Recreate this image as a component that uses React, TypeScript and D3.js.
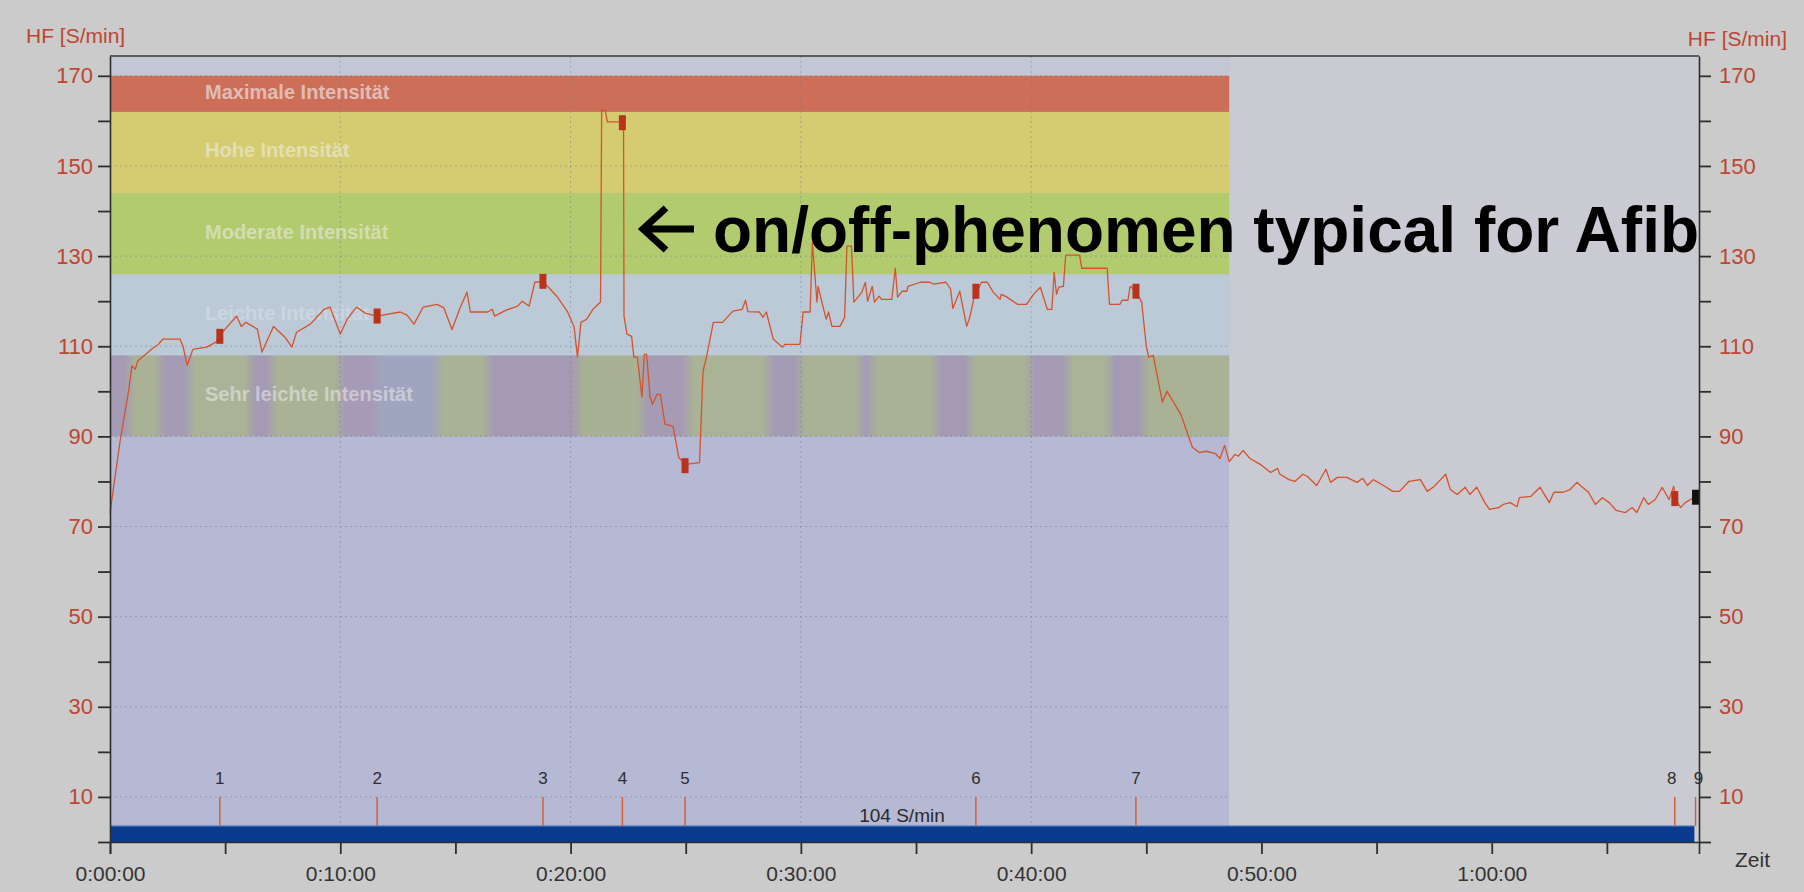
import * as React from 'react';
import { useRef, useEffect } from 'react';
import * as d3 from 'd3';

const W = 1804;
const H = 892;

// heart rate trace: [minute, S/min]
const heartRate: [number, number][] = [
  [0, 73], [0.43, 88.7], [0.8, 99.8], [0.95, 105.6], [1.1, 104.9], [1.2, 106.7], [1.45, 107.8], [1.87, 109.6],
  [2.1, 110.4], [2.3, 111.6], [3.04, 111.6], [3.17, 110], [3.35, 105.8], [3.6, 109.3], [4.2, 109.8], [4.6, 110.9],
  [4.77, 112.4], [5.0, 113.8], [5.5, 116.7], [5.7, 114.4], [5.9, 115.3], [6.4, 113.8], [6.6, 108.7], [7.1, 114.4],
  [7.6, 112], [7.9, 109.8], [8.1, 113.1], [8.7, 114.9], [9.3, 118.2], [9.55, 118.7], [10.0, 112.7], [10.3, 116],
  [10.7, 118.7], [11.1, 117.3], [11.6, 116.7], [12.6, 117.6], [12.9, 116.9], [13.2, 114.9], [13.6, 118.7], [14.2, 119.3],
  [14.5, 118.5], [14.85, 113.7], [15.2, 118.5], [15.5, 122], [15.65, 117.6], [16.4, 117.6], [16.6, 118.2], [16.7, 116.7],
  [17.2, 118], [17.7, 118.9], [17.9, 120], [18.2, 118.9], [18.45, 124.2], [18.8, 124.4], [19.0, 123.3], [19.4, 121.1],
  [19.85, 117.8], [20.15, 114.4], [20.3, 107.6], [20.45, 115.3], [20.7, 116], [20.97, 118.2], [21.3, 119.8], [21.35, 162.4],
  [21.5, 162.4], [21.6, 159.8], [22.3, 159.8], [22.32, 116.7], [22.45, 112.7], [22.65, 112.2], [22.75, 107.6], [22.9, 107.6],
  [23.1, 98.7], [23.2, 108.2], [23.3, 108.2], [23.45, 98.9], [23.55, 97.1], [23.75, 99.3], [23.9, 99.3], [24.1, 92.7],
  [24.45, 92.2], [24.7, 85.3], [24.97, 83.8], [25.6, 84.2], [25.75, 104.4], [25.9, 107.6], [26.2, 115.3], [26.6, 115.3],
  [27.05, 117.8], [27.45, 118.2], [27.6, 120.2], [27.7, 117.7], [28.2, 117.6], [28.35, 116.4], [28.5, 117.6], [28.8, 111.6],
  [29.2, 109.8], [29.3, 110.4], [29.96, 110.4], [30.1, 117.6], [30.4, 117.6], [30.5, 133], [30.7, 119.8], [30.75, 123.3],
  [30.9, 120], [31.1, 116], [31.2, 117.6], [31.35, 114.4], [31.7, 114.4], [31.9, 116.4], [32.0, 132.2], [32.2, 132.2],
  [32.3, 119.8], [32.4, 120.4], [32.65, 122], [32.8, 124.2], [32.9, 120], [33.1, 123.3], [33.2, 119.8], [33.4, 121.1],
  [33.5, 120.4], [33.95, 120.4], [34.1, 127.3], [34.2, 120.9], [34.4, 122.2], [34.6, 122.2], [34.65, 123.3], [35.2, 124.2],
  [35.6, 124.2], [35.75, 123.8], [36.3, 124.2], [36.5, 122.7], [36.6, 118.4], [36.9, 122.2], [37.2, 114.4], [37.35, 116.7],
  [37.5, 120.4], [37.65, 122.2], [37.85, 124.2], [38.1, 124.2], [38.35, 122], [38.65, 120.4], [38.7, 121.5], [38.95, 120.9],
  [39.4, 119.3], [39.8, 119.3], [40.1, 121.5], [40.4, 123.1], [40.7, 118.2], [40.9, 118.2], [41.0, 126.4], [41.1, 121.5],
  [41.2, 123.1], [41.4, 123.3], [41.5, 130.2], [42.1, 130.2], [42.2, 127.3], [43.3, 127.3], [43.4, 119.3], [43.85, 119.3],
  [43.95, 120.2], [44.2, 120.2], [44.3, 123.3], [44.55, 122.2], [44.8, 119.8], [45.0, 110], [45.1, 107.6], [45.3, 108],
  [45.7, 97.6], [45.9, 100], [46.5, 94.9], [47.0, 87.6], [47.3, 86.4], [47.6, 86.7], [48.0, 86.2], [48.2, 85.1],
  [48.4, 88], [48.6, 84.4], [48.85, 86], [49.0, 85.6], [49.2, 86.9], [49.5, 85.1], [49.95, 83.8], [50.4, 82],
  [50.7, 82.9], [50.8, 81.6], [51.2, 80.4], [51.45, 80], [51.8, 81.6], [52.0, 81.1], [52.4, 79.1], [52.8, 82.7],
  [53.0, 79.8], [53.3, 80.9], [53.7, 80.9], [54.15, 79.8], [54.4, 80.7], [54.6, 79.1], [54.85, 80.4], [55.3, 79.1],
  [55.7, 77.8], [56.0, 77.8], [56.4, 80], [56.9, 80.4], [57.2, 77.8], [57.5, 78.9], [58.0, 81.6], [58.2, 78.2],
  [58.5, 77.1], [58.85, 78.7], [59.05, 77.1], [59.35, 78.7], [59.7, 75.3], [59.9, 73.8], [60.3, 74.2], [60.5, 74.9],
  [60.8, 75.3], [61.1, 74.4], [61.2, 76.4], [61.7, 76.7], [62.1, 78.7], [62.5, 75.3], [62.7, 77.6], [63.1, 77.6],
  [63.4, 78.2], [63.7, 79.8], [63.9, 78.9], [64.2, 77.6], [64.5, 74.9], [64.8, 76.4], [65.1, 75.3], [65.4, 73.6],
  [65.8, 73.1], [66.1, 74.2], [66.3, 73.1], [66.6, 76.4], [66.8, 74.9], [67.1, 76], [67.4, 78.7], [67.7, 76],
  [67.9, 78.9], [68.0, 76], [68.2, 74.2], [68.4, 75.3], [68.8, 76.5],
];

// laps
const lapLabels = ['1', '2', '3', '4', '5', '6', '7', '8', '9'];
const lapMinutes = [4.77, 11.6, 18.8, 22.25, 24.97, 37.6, 44.55, 67.95, 68.85];
const lapHr = [112.2, 116.7, 124.4, 159.6, 83.5, 122.2, 122.2, 76.2, 76.5];

// intensity zones
const zoneNames = ['Sehr leichte Intensität', 'Leichte Intensität', 'Moderate Intensität', 'Hohe Intensität', 'Maximale Intensität'];
const zoneLower = [90, 108, 126, 144, 162];
const zoneUpper = [108, 126, 144, 162, 170];
const zoneColors = ['none', '#bccad8', '#b3cb6f', '#d5cc72', '#cd6f58'];
const zoneTextOpacity = [0.5, 0.3, 0.5, 0.5, 0.6];
const zoneEndMinute = 48.6;

// axes
const hrTicks = d3.range(0, 171, 10);
const hrLabels = [10, 30, 50, 70, 90, 110, 130, 150, 170];
const timeTicks = d3.range(0, 66, 5);
const timeLabels = [0, 10, 20, 30, 40, 50, 60];
const gridMinutes = [10, 20, 30, 40];

const averageHr = 104;
const recordEndMinute = 68.8;
const avgBarHr = 3.6;

// print artefact stripes in the lowest zone (px start, tone)
const stripes: [number, string][] = [
  [110, '#a59bb5'], [130, '#a9b295'], [160, '#a59bb4'], [190, '#aab396'], [250, '#a49ab4'], [272, '#a9b294'],
  [340, '#a59bb6'], [376, '#a0a5bf'], [438, '#a9b294'], [488, '#a59ab4'], [578, '#a8b193'], [642, '#a59bb5'],
  [688, '#aab395'], [768, '#a49bb5'], [800, '#a9b295'], [860, '#a59bb5'], [872, '#a9b294'], [936, '#a49ab4'],
  [970, '#a9b295'], [1030, '#a59bb4'], [1068, '#aab396'], [1110, '#a49ab4'], [1144, '#a9b294'], [1229, '']
];

const FONT = "'Liberation Sans', Arial, Helvetica, sans-serif";

const fmtTime = (m: number) => `${Math.floor(m / 60)}:${String(m % 60).padStart(2, '0')}:00`;

export default function App() {
  const svgRef = useRef<SVGSVGElement | null>(null);

  useEffect(() => {
    document.body.style.margin = '0';
    if (!svgRef.current) return;
    const svg = d3.select(svgRef.current);
    svg.selectAll('*').remove();

    const x = d3.scaleLinear().domain([0, 69]).range([110, 1699]);
    const y = d3.scaleLinear().domain([0, 174.4]).range([842, 56]);
    const xZone = x(zoneEndMinute);

    svg.append('rect').attr('width', W).attr('height', H).attr('fill', '#cbcbcb');

    // stripes gradient
    const defs = svg.append('defs');
    const grad = defs.append('linearGradient')
      .attr('id', 'stripes')
      .attr('gradientUnits', 'userSpaceOnUse')
      .attr('x1', 110).attr('x2', xZone).attr('y1', 0).attr('y2', 0);
    const span = xZone - 110;
    stripes.slice(0, -1).forEach(([s, c], i) => {
      const e = stripes[i + 1][0];
      grad.append('stop').attr('offset', Math.max(0, (s + 6 - 110) / span)).attr('stop-color', c);
      grad.append('stop').attr('offset', Math.min(1, (e - 6 - 110) / span)).attr('stop-color', c);
    });

    // plot backgrounds
    svg.append('rect').attr('x', x(0)).attr('y', y(174.4)).attr('width', xZone - x(0)).attr('height', y(0) - y(174.4)).attr('fill', '#b5b9d4');
    svg.append('rect').attr('x', x(0)).attr('y', y(174.4)).attr('width', xZone - x(0)).attr('height', y(170) - y(174.4)).attr('fill', '#c3c7d5');
    svg.append('rect').attr('x', xZone).attr('y', y(174.4)).attr('width', x(69) - xZone).attr('height', y(0) - y(174.4)).attr('fill', '#cacad2');

    zoneNames.forEach((name, i) => {
      svg.append('rect')
        .attr('x', x(0))
        .attr('y', y(zoneUpper[i]))
        .attr('width', xZone - x(0))
        .attr('height', y(zoneLower[i]) - y(zoneUpper[i]))
        .attr('fill', i === 0 ? 'url(#stripes)' : zoneColors[i]);
    });

    // grid
    const grid = svg.append('g').attr('stroke', '#6f7590').attr('stroke-opacity', 0.45).attr('stroke-dasharray', '2,3').attr('stroke-width', 1);
    hrLabels.forEach(v => {
      grid.append('line').attr('x1', x(0)).attr('x2', xZone).attr('y1', y(v)).attr('y2', y(v));
    });
    gridMinutes.forEach(m => {
      grid.append('line').attr('x1', x(m)).attr('x2', x(m)).attr('y1', y(174.4)).attr('y2', y(0));
    });

    zoneNames.forEach((name, i) => {
      svg.append('text')
        .attr('x', 205)
        .attr('y', (y(zoneLower[i]) + y(zoneUpper[i])) / 2 - 2)
        .attr('dominant-baseline', 'central')
        .attr('font-family', FONT)
        .attr('font-weight', 'bold')
        .attr('font-size', 20)
        .attr('fill', '#f2f2f2')
        .attr('fill-opacity', zoneTextOpacity[i])
        .text(name);
    });

    // average bar
    svg.append('rect')
      .attr('x', x(0)).attr('y', y(avgBarHr))
      .attr('width', x(recordEndMinute) - x(0)).attr('height', y(0) - y(avgBarHr))
      .attr('fill', '#0b3b8e');
    svg.append('line')
      .attr('x1', x(0)).attr('x2', x(recordEndMinute)).attr('y1', y(avgBarHr) + 0.5).attr('y2', y(avgBarHr) + 0.5)
      .attr('stroke', '#3c6cbc').attr('stroke-width', 1);
    svg.append('text')
      .attr('x', 902).attr('y', 822)
      .attr('text-anchor', 'middle')
      .attr('font-family', FONT).attr('font-size', 19).attr('fill', '#2a2a2a')
      .text(`${averageHr} S/min`);

    // lap lines
    lapMinutes.forEach((m, i) => {
      svg.append('line')
        .attr('x1', x(m)).attr('x2', x(m)).attr('y1', y(10)).attr('y2', y(avgBarHr))
        .attr('stroke', '#d65a30').attr('stroke-width', 1.4);
      svg.append('text')
        .attr('x', x(m) + (i === 7 ? -3 : i === 8 ? 3 : 0)).attr('y', 784)
        .attr('text-anchor', 'middle')
        .attr('font-family', FONT).attr('font-size', 17).attr('fill', '#2e2e2e')
        .text(lapLabels[i]);
    });

    // heart rate line
    const line = d3.line<[number, number]>().x(d => x(d[0])).y(d => y(d[1]));
    svg.append('path')
      .datum(heartRate)
      .attr('d', line)
      .attr('fill', 'none')
      .attr('stroke', '#d4522c')
      .attr('stroke-width', 1.3)
      .attr('stroke-linejoin', 'round');

    // lap markers
    lapMinutes.forEach((m, i) => {
      svg.append('rect')
        .attr('x', x(m) - 3.5).attr('y', y(lapHr[i]) - 7.5)
        .attr('width', 7).attr('height', 15)
        .attr('fill', i === 8 ? '#111' : '#b9321c');
    });

    // frame
    svg.append('line').attr('x1', x(0)).attr('x2', x(69)).attr('y1', y(174.4)).attr('y2', y(174.4))
      .attr('stroke', '#3a3a3a').attr('stroke-width', 1.5);

    // axes
    const styleAxis = (g: d3.Selection<SVGGElement, unknown, null, undefined>) => {
      g.select('.domain').attr('stroke', '#2e2e2e').attr('stroke-width', 1.6);
      g.selectAll('.tick line').attr('stroke', '#2e2e2e').attr('stroke-width', 1.8);
    };

    const yLeft = svg.append('g').attr('transform', `translate(${x(0)},0)`)
      .call(d3.axisLeft(y).tickValues(hrTicks).tickSize(12).tickSizeOuter(0).tickPadding(5)
        .tickFormat(d => (hrLabels.includes(+d) ? String(d) : '')));
    styleAxis(yLeft);
    yLeft.selectAll('.tick text').attr('font-family', FONT).attr('font-size', 22).attr('fill', '#bd4531');

    const yRight = svg.append('g').attr('transform', `translate(${x(69)},0)`)
      .call(d3.axisRight(y).tickValues(hrTicks).tickSize(12).tickSizeOuter(0).tickPadding(8)
        .tickFormat(d => (hrLabels.includes(+d) ? String(d) : '')));
    styleAxis(yRight);
    yRight.selectAll('.tick text').attr('font-family', FONT).attr('font-size', 22).attr('fill', '#bd4531');

    const xAxis = svg.append('g').attr('transform', `translate(0,${y(0)})`)
      .call(d3.axisBottom(x).tickValues(timeTicks).tickSize(12).tickSizeOuter(12).tickPadding(12)
        .tickFormat(d => (timeLabels.includes(+d) ? fmtTime(+d) : '')));
    styleAxis(xAxis);
    xAxis.selectAll('.tick text').attr('font-family', FONT).attr('font-size', 21).attr('fill', '#333');

    // axis titles
    svg.append('text').attr('x', 26).attr('y', 43)
      .attr('font-family', FONT).attr('font-size', 21).attr('fill', '#bd4531').text('HF [S/min]');
    svg.append('text').attr('x', 1787).attr('y', 46).attr('text-anchor', 'end')
      .attr('font-family', FONT).attr('font-size', 21).attr('fill', '#bd4531').text('HF [S/min]');
    svg.append('text').attr('x', 1735).attr('y', 867)
      .attr('font-family', FONT).attr('font-size', 21).attr('fill', '#333').text('Zeit');

    // annotation: heavy arrow + text
    const ay = 229;
    svg.append('path')
      .attr('d', `M${694},${ay}L${644},${ay}M${666},${ay - 21}L${643},${ay}L${666},${ay + 21}`)
      .attr('fill', 'none')
      .attr('stroke', '#000')
      .attr('stroke-width', 7)
      .attr('stroke-linejoin', 'miter')
      .attr('stroke-linecap', 'butt');
    svg.append('text')
      .attr('x', x(69)).attr('y', 252)
      .attr('text-anchor', 'end')
      .attr('font-family', FONT).attr('font-weight', 'bold').attr('font-size', 64)
      .attr('fill', '#000')
      .text('on/off-phenomen typical for Afib');
  }, []);

  return (
    <svg ref={svgRef} width={W} height={H} style={{ display: 'block' }} />
  );
}
